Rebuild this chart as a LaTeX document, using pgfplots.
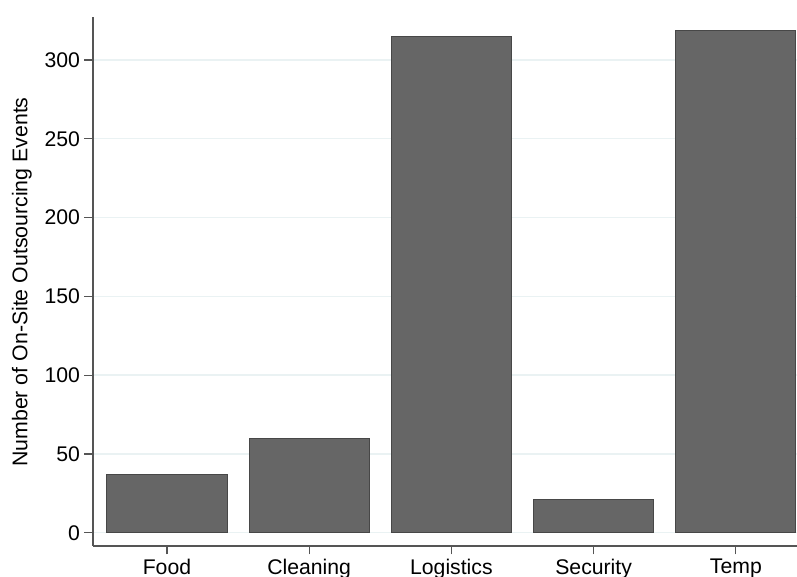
\documentclass[border=0pt]{standalone}
\usepackage{pgfplots}
\pgfplotsset{compat=1.18}
\usepackage{fontspec}
\setmainfont{Liberation Sans}
\definecolor{barfill}{HTML}{666666}
\definecolor{baredge}{HTML}{474747}
\definecolor{gridc}{HTML}{EAF2F3}
\definecolor{axisc}{HTML}{555555}
\begin{document}
\begin{tikzpicture}
\begin{axis}[
  at={(0,0)}, anchor=south west,
  scale only axis,
  width=704pt, height=529pt,
  xmin=0.48, xmax=5.43,
  ymin=-8.4, ymax=327.3,
  axis x line*=bottom, axis y line*=left,
  axis line style={color=axisc, line width=1.3pt, -},
  xtick={1,2,3,4,5},
  xticklabels={Food,Cleaning,Logistics,Security,Temp},
  ytick={0,50,100,150,200,250,300},
  tick align=outside,
  major tick length=8.5pt,
  tick style={color=axisc, line width=1.2pt},
  ymajorgrids,
  grid style={color=gridc, line width=1.4pt},
  /pgf/number format/assume math mode=true,
  tick label style={font=\fontsize{21.2}{23}\selectfont, color=black},
  yticklabel style={xshift=-1pt},
  xticklabel style={yshift=-1pt},
  ylabel={Number of On-Site Outsourcing Events},
  ylabel style={font=\fontsize{21.3}{23}\selectfont, at={(axis description cs:-0.0933,0.499)}, anchor=base},
  ybar, bar width=0.845,
  bar shift=0pt,
]
\addplot[fill=barfill, draw=baredge, line width=1pt] coordinates {
  (1,37) (2,60) (3,315) (4,21) (5,319)
};
\end{axis}
\pgfresetboundingbox
\path[use as bounding box] (-93pt,-31pt) rectangle (704pt,546pt);
\end{tikzpicture}
\end{document}
